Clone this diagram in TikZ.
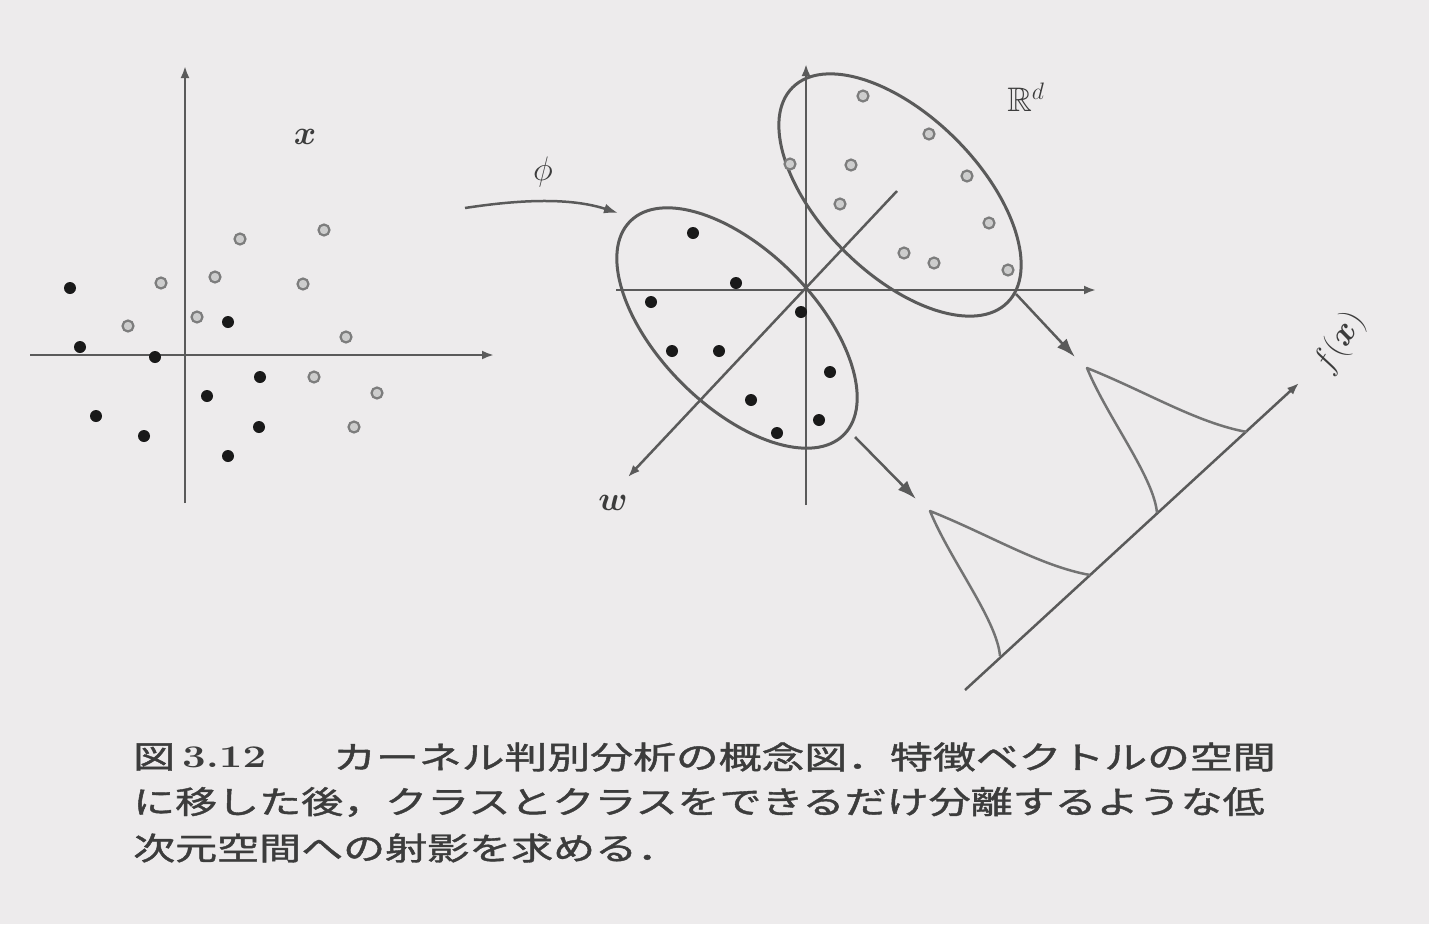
\RequirePackage{fix-cm}
\documentclass[tikz,border=0pt]{standalone}
\usepackage{fontspec}
\usepackage{amsmath,amssymb}
\usepackage{graphicx}
\usetikzlibrary{arrows.meta}
\newfontfamily\cjk[FakeBold=1.2]{Noto Sans CJK JP}
\definecolor{bg}{RGB}{237,235,236}
\definecolor{ln}{RGB}{90,90,90}
\definecolor{dotk}{RGB}{25,25,25}
\definecolor{ring}{RGB}{125,125,125}
\definecolor{ringin}{RGB}{205,205,205}
\definecolor{txt}{RGB}{60,60,60}
\begin{document}
\begin{tikzpicture}[x=1pt,y=-1pt,
  axisline/.style={draw=ln, line width=2.5pt},
  axarrow/.style={-{Latex[length=12pt,width=9pt]}},
  proj/.style={draw=ln, line width=2.5pt, -{Latex[length=19pt,width=13pt]}},
  ell/.style={draw=ln, line width=3pt},
  gauss/.style={draw=ln!85, line width=2.5pt, line join=round},
  lab/.style={inner sep=0, text=txt, font=\fontsize{34}{40}\selectfont},
  captext/.style={inner sep=0, text=txt, font=\fontsize{42}{50}\selectfont},
  fdot/.style={fill=dotk},
  odot/.style={draw=ring, fill=ringin, line width=2.2pt},
]
\fill[bg] (0,0) rectangle (1429,924);
\useasboundingbox (0,0) rectangle (1429,924);

% ---------- left panel ----------
\coordinate (LvB) at (185,503);
\coordinate (LvT) at (185,66);
\coordinate (LhL) at (30,355);
\coordinate (LhR) at (494,355);
\draw[axisline, axarrow] (LvB) -- (LvT);
\draw[axisline, axarrow] (LhL) -- (LhR);
\node[lab] (xlab) at (305,137) {$\boldsymbol{x}$};

\foreach \p in {(70,288),(80,347),(155,357),(228,322),(260,377),(207,396),(96,416),(144,436),(259,427),(228,456)}
  \fill[fdot] \p circle (6pt);
\foreach \p in {(240,239),(324,230),(161,283),(215,277),(303,284),(128,326),(197,317),(346,337),(314,377),(377,393),(354,427)}
  \filldraw[odot] \p circle (5.5pt);

% ---------- phi arrow ----------
\coordinate (phiS) at (465,208);
\coordinate (phiE) at (618,213);
\draw[draw=ln, line width=2.5pt, -{Latex[length=14pt,width=10pt]}] (phiS) .. controls (530,198) and (575,199) .. (phiE);
\node[lab] (philab) at (543,172) {$\phi$};

% ---------- right panel ----------
\coordinate (O) at (806,290);
\coordinate (RvB) at (806,505);
\coordinate (RvT) at (806,64);
\coordinate (RhL) at (616,290);
\coordinate (RhR) at (1096,290);
\coordinate (RdU) at (897,191);
\coordinate (RdL) at (628,477);
\draw[axisline, axarrow] (RvB) -- (RvT);
\draw[axisline, axarrow] (RhL) -- (RhR);
\draw[axisline, axarrow] (RdU) -- (RdL);
\node[lab] (wlab) at (613,503) {$\boldsymbol{w}$};
\node[lab] (Rlab) at (1026,97) {$\mathbb{R}^d$};

\draw[ell, rotate around={-45:(737,328)}] (737,328) ellipse [x radius=151pt, y radius=78pt];
\draw[ell, rotate around={-45:(900,195)}] (900,195) ellipse [x radius=152pt, y radius=79pt];

\foreach \p in {(693,233),(736,283),(651,302),(801,312),(672,351),(719,351),(830,372),(751,400),(819,420),(777,433)}
  \fill[fdot] \p circle (6pt);
\foreach \p in {(863,96),(929,134),(790,164),(851,165),(967,176),(840,204),(989,223),(904,253),(934,263),(1008,270)}
  \filldraw[odot] \p circle (5.5pt);

% projection arrows
\coordinate (p1s) at (1016,294);
\coordinate (p1e) at (1075,357);
\coordinate (p2s) at (855,437);
\coordinate (p2e) at (916,499);
\draw[proj] (p1s) -- (p1e);
\draw[proj] (p2s) -- (p2e);

% f(x) axis
\coordinate (fA) at (965,690);
\coordinate (fB) at (1299,383);
\draw[axisline, axarrow] (fA) -- (fB);
\node[lab, rotate=58] (flab) at (1340,343) {$f(\boldsymbol{x})$};

% gaussians
\draw[gauss] (1000,656) .. controls (997,620) and (950,560) .. (930,511)
  .. controls (990,535) and (1040,566) .. (1090,575);
\begin{scope}[shift={(157,-143)}]
\draw[gauss] (1000,656) .. controls (997,620) and (950,560) .. (930,511)
  .. controls (990,535) and (1040,566) .. (1090,575);
\end{scope}

% ---------- caption ----------
\node[captext, anchor=west] (c1a) at (133,757) {\scalebox{1}[0.75]{\cjk 図}};
\node[captext, anchor=west] (c1b) at (182,757) {\scalebox{1}[0.75]{\textbf{3.12}}};
\node[captext, anchor=west] (c1c) at (333,757) {\scalebox{1.02}[0.75]{\cjk カーネル判別分析の概念図．特徴ベクトルの空間}};
\node[captext, anchor=west] (c2) at (133,802) {\scalebox{1}[0.75]{\cjk に移した後，クラスとクラスをできるだけ分離するような低}};
\node[captext, anchor=west] (c3) at (133,848) {\scalebox{1}[0.75]{\cjk 次元空間への射影を求める．}};
\end{tikzpicture}
\end{document}
